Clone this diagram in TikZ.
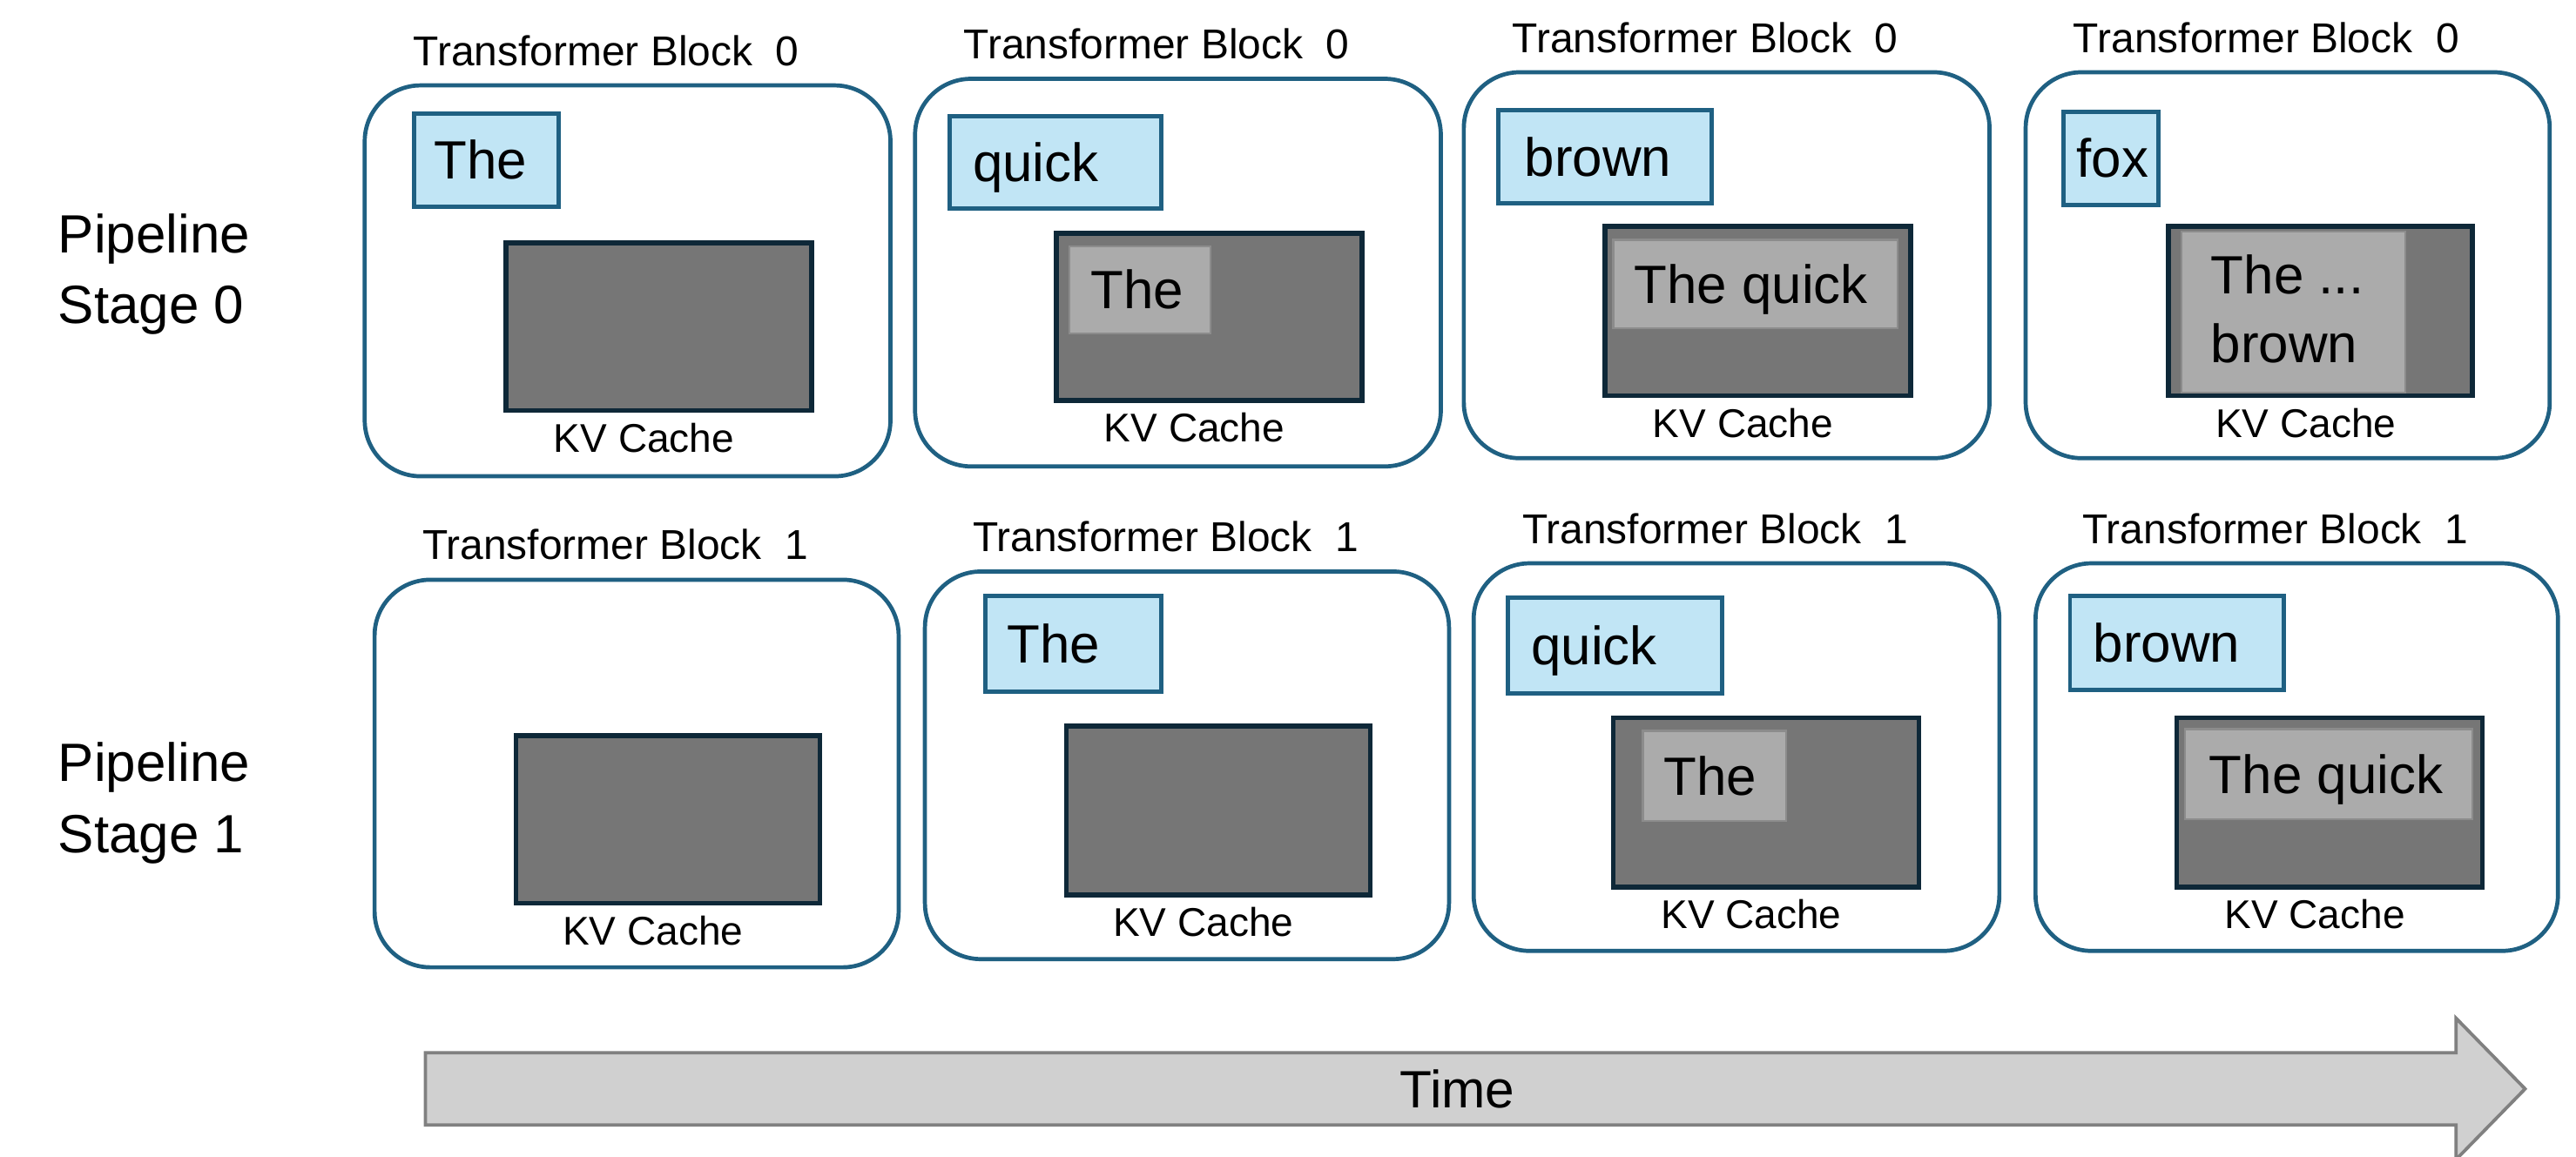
\documentclass[tikz,border=0pt]{standalone}
\usepackage{fontspec}
\setmainfont{Liberation Sans}
\usetikzlibrary{fit}

\definecolor{panelblue}{HTML}{1F6082}
\definecolor{tokenfill}{HTML}{C1E5F5}
\definecolor{kvfill}{HTML}{767676}
\definecolor{kvedge}{HTML}{0E2838}
\definecolor{usedfill}{HTML}{ABABAB}
\definecolor{usededge}{HTML}{8C8C8C}
\definecolor{arrowfill}{HTML}{D0D0D0}
\definecolor{arrowedge}{HTML}{808080}

\begin{document}
\begin{tikzpicture}[x=0.5pt,y=-0.5pt,
  panel/.style={draw=panelblue, line width=1.25pt, rounded corners=17pt, inner sep=0pt, fill=white},
  token/.style={draw=panelblue, fill=tokenfill, line width=1.3pt, inner sep=0pt},
  kv/.style={draw=kvedge, fill=kvfill, line width=1.5pt, inner sep=0pt},
  kvused/.style={draw=usededge, fill=usedfill, line width=0.6pt, inner sep=0pt},
  blocktitle/.style={font=\fontsize{12.7}{15}\selectfont, inner sep=0pt},
  kvlabel/.style={font=\fontsize{12.2}{14}\selectfont, inner sep=0pt},
  word/.style={font=\fontsize{16.4}{21}\selectfont, inner sep=0pt, anchor=base west},
  wordlines/.style={font=\fontsize{16.4}{21}\selectfont, inner sep=0pt, anchor=west, align=left},
  stage/.style={font=\fontsize{16.4}{21.5}\selectfont, inner sep=0pt, anchor=west, align=left},
  timearrow/.style={draw=arrowedge, fill=arrowfill, line width=1pt},
  timetext/.style={font=\fontsize{16}{19}\selectfont, inner sep=0pt},
]
\useasboundingbox (0,0) rectangle (1568,704);

% stage labels
\node[stage] (s0) at (35,167) {Pipeline\\Stage 0};
\node[stage] (s1) at (35,489) {Pipeline\\Stage 1};

% ---------- pipeline stage 0 (transformer block 0) ----------
\node[panel, fit={(222,52) (542,290)}] (p00) {};
\node[panel, fit={(557,48) (877,284)}] (p01) {};
\node[panel, fit={(891,44) (1211,279)}] (p02) {};
\node[panel, fit={(1233,44) (1552,279)}] (p03) {};

\foreach \p in {p00,p01,p02,p03}
  \node[blocktitle] (\p-title) at ([xshift=-6.5pt,yshift=10pt]\p.north) {Transformer Block~~0};

\node[token, fit={(252,69) (340,126)}] (t00) {};
\node[token, fit={(578,71) (707,127)}] (t01) {};
\node[token, fit={(912,67) (1042,124)}] (t02) {};
\node[token, fit={(1256,68) (1314,125)}] (t03) {};
\node[word] (w00) at ([xshift=6.5pt,yshift=-5.8pt]t00.west) {The};
\node[word] (w01) at ([xshift=7.5pt,yshift=-5.8pt]t01.west) {quick};
\node[word] (w02) at ([xshift=8.5pt,yshift=-5.8pt]t02.west) {brown};
\node[word] (w03) at ([xshift=4.5pt,yshift=-5.8pt]t03.west) {fox};

\node[kv, fit={(308,148) (494,250)}] (k00) {};
\node[kv, fit={(643,142) (829,244)}] (k01) {};
\node[kv, fit={(977,138) (1163,241)}] (k02) {};
\node[kv, fit={(1320,138) (1505,241)}] (k03) {};

\node[kvused, fit={(651,150) (737,203)}] (u01) {};
\node[kvused, fit={(982,146) (1155,200)}] (u02) {};
\node[kvused, fit={(1328,141) (1464,239)}] (u03) {};
\node[word] (c01) at ([xshift=6.5pt,yshift=-5.8pt]u01.west) {The};
\node[word] (c02) at ([xshift=6.5pt,yshift=-5.8pt]u02.west) {The quick};
\node[wordlines] (c03) at ([xshift=9pt,yshift=1pt]u03.west) {The ...\\brown};

\foreach \k in {k00,k01,k02,k03}
  \node[kvlabel] (\k-label) at ([xshift=-4.5pt,yshift=-7.5pt]\k.south) {KV Cache};

% ---------- pipeline stage 1 (transformer block 1) ----------
\node[panel, fit={(228,353) (547,589)}] (p10) {};
\node[panel, fit={(563,348) (882,584)}] (p11) {};
\node[panel, fit={(897,343) (1217,579)}] (p12) {};
\node[panel, fit={(1239,343) (1557,579)}] (p13) {};

\foreach \p in {p10,p11,p12,p13}
  \node[blocktitle] (\p-title) at ([xshift=-6.5pt,yshift=10pt]\p.north) {Transformer Block~~1};

\node[token, fit={(600,363) (707,421)}] (t11) {};
\node[token, fit={(918,364) (1048,422)}] (t12) {};
\node[token, fit={(1260,363) (1390,420)}] (t13) {};
\node[word] (w11) at ([xshift=7pt,yshift=-5.8pt]t11.west) {The};
\node[word] (w12) at ([xshift=7.5pt,yshift=-5.8pt]t12.west) {quick};
\node[word] (w13) at ([xshift=7.5pt,yshift=-5.8pt]t13.west) {brown};

\node[kv, fit={(314,448) (499,550)}] (k10) {};
\node[kv, fit={(649,442) (834,545)}] (k11) {};
\node[kv, fit={(982,437) (1168,540)}] (k12) {};
\node[kv, fit={(1325,437) (1511,540)}] (k13) {};

\node[kvused, fit={(1000,445) (1087,500)}] (u12) {};
\node[kvused, fit={(1330,444) (1505,499)}] (u13) {};
\node[word] (c12) at ([xshift=6.5pt,yshift=-5.8pt]u12.west) {The};
\node[word] (c13) at ([xshift=7.5pt,yshift=-5.8pt]u13.west) {The quick};

\foreach \k in {k10,k11,k12,k13}
  \node[kvlabel] (\k-label) at ([xshift=-4.5pt,yshift=-7.5pt]\k.south) {KV Cache};

% ---------- time axis ----------
\draw[timearrow] (259,641) -- (1495,641) -- (1495,620) -- (1537,663)
  -- (1495,706) -- (1495,685) -- (259,685) -- cycle;
\node[timetext] (time) at (887,663) {Time};

\end{tikzpicture}
\end{document}
